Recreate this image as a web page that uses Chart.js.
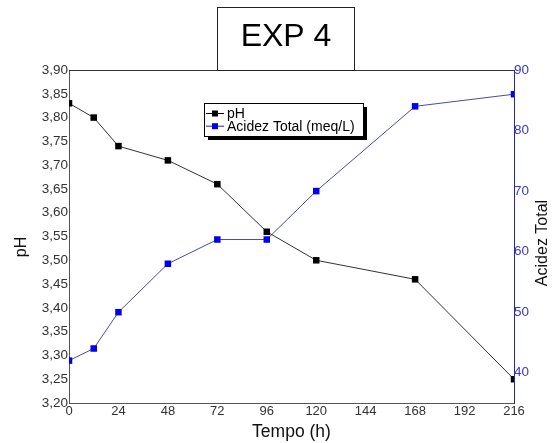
<!DOCTYPE html>
<html>
<head>
<meta charset="utf-8">
<script src="https://cdn.jsdelivr.net/npm/chart.js@4"></script>
<style>
  html, body { margin: 0; padding: 0; background: #fff; }
</style>
</head>
<body>
<canvas id="chart" width="554" height="443"></canvas>
<script>
// data
const tempo = [0, 12, 24, 48, 72, 96, 120, 168, 216];
const ph = [3.83, 3.80, 3.74, 3.71, 3.66, 3.56, 3.50, 3.46, 3.25];
const acidez = [42, 44, 50, 58, 62, 62, 70, 84, 86];

const xTicks = [0, 24, 48, 72, 96, 120, 144, 168, 192, 216];
const phTicks = [3.20, 3.25, 3.30, 3.35, 3.40, 3.45, 3.50, 3.55, 3.60, 3.65, 3.70, 3.75, 3.80, 3.85, 3.90];
const acidezTicks = [40, 50, 60, 70, 80, 90];

const FONT = "'Liberation Sans', Arial, sans-serif";

// title box, legend box, top frame line and the vertical axis titles
const extras = {
  id: "extras",
  afterDraw(chart) {
    const ctx = chart.ctx;
    const area = chart.chartArea;
    ctx.save();

    // top frame line
    ctx.strokeStyle = "#333";
    ctx.lineWidth = 1;
    ctx.beginPath();
    ctx.moveTo(area.left, area.top + 0.5);
    ctx.lineTo(area.right, area.top + 0.5);
    ctx.stroke();

    // title
    ctx.fillStyle = "#fff";
    ctx.fillRect(217.5, 7.5, 137, 63);
    ctx.strokeStyle = "#222";
    ctx.strokeRect(217.5, 7.5, 137, 63);
    ctx.fillStyle = "#000";
    ctx.font = "32px " + FONT;
    ctx.textAlign = "center";
    ctx.textBaseline = "middle";
    ctx.fillText("EXP 4", 286, 37);

    // legend with shadow
    ctx.fillStyle = "#000";
    ctx.fillRect(208, 107, 159, 33);
    ctx.fillStyle = "#fff";
    ctx.fillRect(204.5, 103.5, 159, 33);
    ctx.strokeStyle = "#000";
    ctx.strokeRect(204.5, 103.5, 159, 33);
    ctx.font = "14px " + FONT;
    ctx.textAlign = "left";
    chart.data.datasets.forEach((ds, i) => {
      const y = 113.5 + i * 12.7;
      ctx.strokeStyle = ds.legendLine;
      ctx.beginPath();
      ctx.moveTo(206, y);
      ctx.lineTo(224, y);
      ctx.stroke();
      ctx.fillStyle = ds.pointBackgroundColor;
      ctx.fillRect(212, y - 3, 6, 6);
      ctx.fillStyle = "#000";
      ctx.fillText(ds.label, 227, y + 0.5);
    });

    // vertical axis titles
    ctx.font = "16px " + FONT;
    ctx.textAlign = "center";
    ctx.fillStyle = "#111";
    ctx.translate(22, 247);
    ctx.rotate(-Math.PI / 2);
    ctx.fillText("pH", 0, 0);
    ctx.setTransform(1, 0, 0, 1, 0, 0);
    ctx.translate(543, 243);
    ctx.rotate(-Math.PI / 2);
    ctx.fillText("Acidez Total", 0, 0);
    ctx.restore();
  },
};

new Chart(document.getElementById("chart"), {
  type: "line",
  data: {
    datasets: [
      {
        label: "pH",
        data: tempo.map((t, i) => ({ x: t, y: ph[i] })),
        yAxisID: "y",
        borderColor: "#333",
        borderWidth: 1,
        pointStyle: "rect",
        pointRadius: 4.6,
        pointBackgroundColor: "#000",
        pointBorderColor: "#000",
        pointBorderWidth: 0,
        legendLine: "#000",
        tension: 0,
      },
      {
        label: "Acidez Total (meq/L)",
        data: tempo.map((t, i) => ({ x: t, y: acidez[i] })),
        yAxisID: "y2",
        borderColor: "#4a4aa8",
        borderWidth: 1,
        pointStyle: "rect",
        pointRadius: 4.6,
        pointBackgroundColor: "#0000ee",
        pointBorderColor: "#0000ee",
        pointBorderWidth: 0,
        legendLine: "#2020d0",
        tension: 0,
      },
    ],
  },
  options: {
    responsive: false,
    animation: false,
    layout: { padding: { top: 70, left: 0, right: 0, bottom: 0 } },
    plugins: {
      legend: { display: false },
      title: { display: false },
      tooltip: { enabled: false },
    },
    scales: {
      x: {
        type: "linear",
        min: 0,
        max: 216,
        afterBuildTicks: (scale) => { scale.ticks = xTicks.map((v) => ({ value: v })); },
        afterFit: (scale) => { scale.height = 40; },
        grid: { display: false, drawTicks: false },
        border: { display: true, color: "#555", width: 1 },
        ticks: { padding: 1, color: "#333", font: { family: FONT, size: 13 }, maxRotation: 0 },
        title: {
          display: true,
          text: "Tempo (h)",
          color: "#111",
          font: { family: FONT, size: 17.5 },
          padding: { top: 0, bottom: 0.5 },
        },
      },
      y: {
        position: "left",
        min: 3.2,
        max: 3.9,
        afterBuildTicks: (scale) => { scale.ticks = phTicks.map((v) => ({ value: v })); },
        afterFit: (scale) => { scale.width = 69; },
        grid: { display: false, drawTicks: false },
        border: { display: true, color: "#555", width: 1 },
        ticks: {
          padding: 1,
          color: "#333",
          font: { family: FONT, size: 13.5 },
          callback: (v) => v.toFixed(2).replace(".", ","),
        },
      },
      y2: {
        position: "right",
        min: 35,
        max: 90,
        afterBuildTicks: (scale) => { scale.ticks = acidezTicks.map((v) => ({ value: v })); },
        afterFit: (scale) => { scale.width = 40; },
        grid: { display: false, drawTicks: false },
        border: { display: true, color: "#2a2aa0", width: 1 },
        ticks: { padding: 0, color: "#3a3ac8", font: { family: FONT, size: 13.5 } },
      },
    },
  },
  plugins: [extras],
});
</script>
</body>
</html>
